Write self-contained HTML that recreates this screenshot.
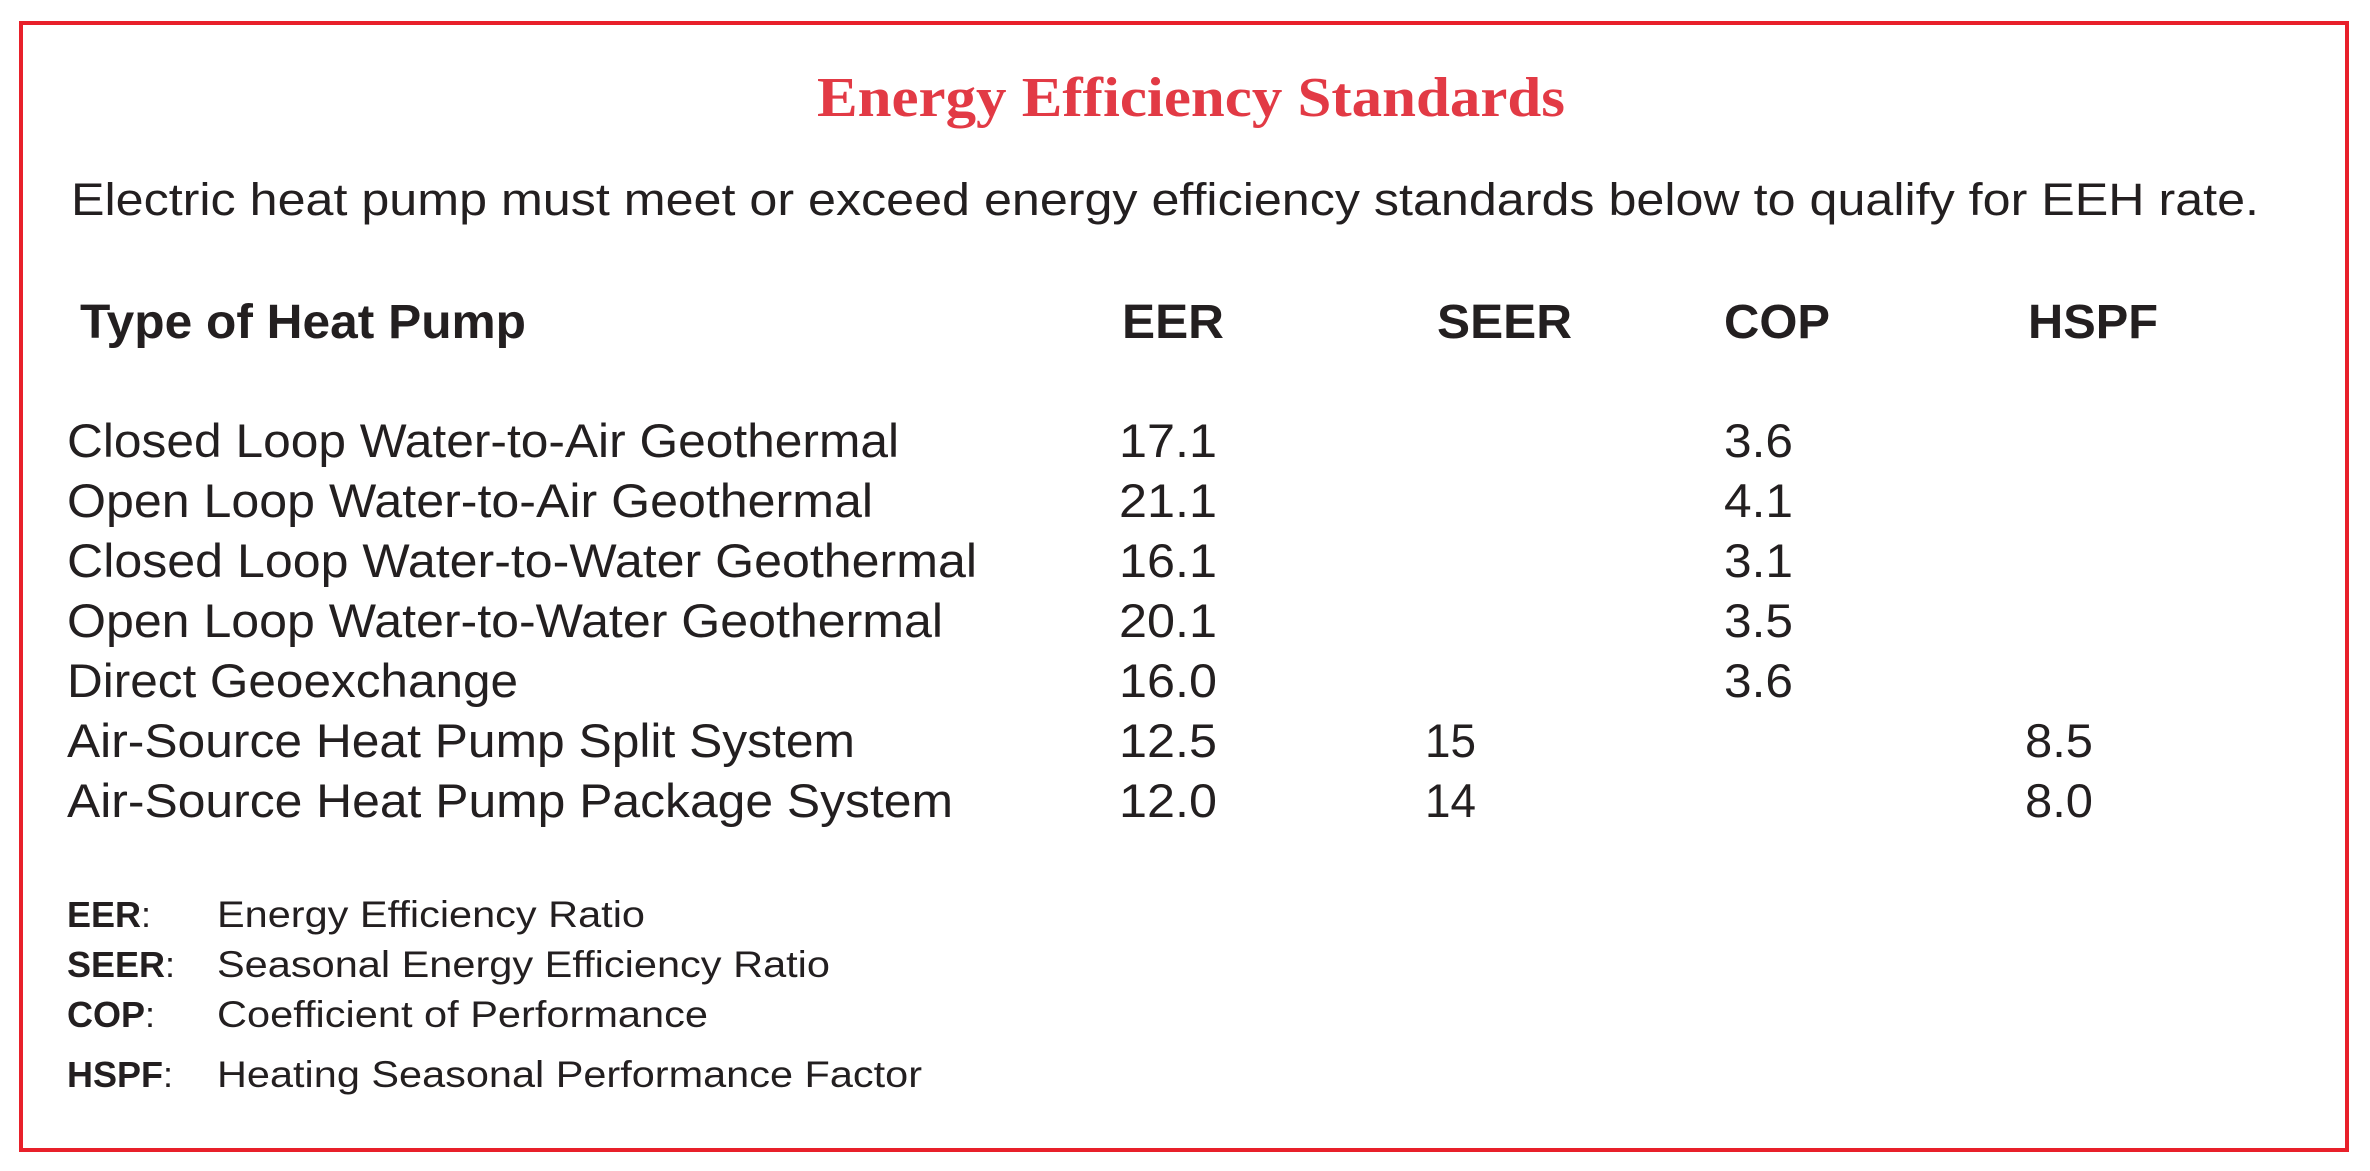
<!DOCTYPE html>
<html><head><meta charset="utf-8"><style>
html,body{margin:0;padding:0;background:#fff;}
svg{display:block;}
text{font-family:"Liberation Sans",Arial,sans-serif;fill:#231f20;}
</style></head><body>
<svg id="chart" width="2370" height="1171" viewBox="0 0 2370 1171" xmlns="http://www.w3.org/2000/svg">
<rect x="21" y="23" width="2326" height="1127" fill="#fff" stroke="#e8202a" stroke-width="4"/>
<text x="817" y="116" textLength="748" lengthAdjust="spacingAndGlyphs" style="font-family:'Liberation Serif',serif;font-weight:bold;font-size:56px;fill:#e23a45">Energy Efficiency Standards</text>
<text x="71" y="215" textLength="2188" lengthAdjust="spacingAndGlyphs" font-size="45">Electric heat pump must meet or exceed energy efficiency standards below to qualify for EEH rate.</text>
<text x="80" y="338" textLength="446" lengthAdjust="spacingAndGlyphs" font-size="48" font-weight="bold">Type of Heat Pump</text>
<text x="1122" y="338" textLength="102" lengthAdjust="spacingAndGlyphs" font-size="48" font-weight="bold">EER</text>
<text x="1437" y="338" textLength="135" lengthAdjust="spacingAndGlyphs" font-size="48" font-weight="bold">SEER</text>
<text x="1724" y="338" textLength="106" lengthAdjust="spacingAndGlyphs" font-size="48" font-weight="bold">COP</text>
<text x="2028" y="338" textLength="130" lengthAdjust="spacingAndGlyphs" font-size="48" font-weight="bold">HSPF</text>
<g id="rows"></g>
<text x="67" y="927" font-size="36"><tspan font-weight="bold">EER</tspan>:</text>
<text x="217" y="927" textLength="428" lengthAdjust="spacingAndGlyphs" font-size="37">Energy Efficiency Ratio</text>
<text x="67" y="977" font-size="36"><tspan font-weight="bold">SEER</tspan>:</text>
<text x="217" y="977" textLength="613" lengthAdjust="spacingAndGlyphs" font-size="37">Seasonal Energy Efficiency Ratio</text>
<text x="67" y="1027" font-size="36"><tspan font-weight="bold">COP</tspan>:</text>
<text x="217" y="1027" textLength="491" lengthAdjust="spacingAndGlyphs" font-size="37">Coefficient of Performance</text>
<text x="67" y="1087" font-size="36"><tspan font-weight="bold">HSPF</tspan>:</text>
<text x="217" y="1087" textLength="705" lengthAdjust="spacingAndGlyphs" font-size="37">Heating Seasonal Performance Factor</text>
</svg>
<script>
const types = ["Closed Loop Water-to-Air Geothermal","Open Loop Water-to-Air Geothermal","Closed Loop Water-to-Water Geothermal","Open Loop Water-to-Water Geothermal","Direct Geoexchange","Air-Source Heat Pump Split System","Air-Source Heat Pump Package System"];
const eer = ["17.1","21.1","16.1","20.1","16.0","12.5","12.0"];
const seer = ["","","","","","15","14"];
const cop = ["3.6","4.1","3.1","3.5","3.6","",""];
const hspf = ["","","","","","8.5","8.0"];
const typeWidths = [832,806,910,876,451,788,886];
const NS = "http://www.w3.org/2000/svg";
const g = document.getElementById("rows");
function rowY(i){ return 457 + i*60; }
function addText(x, y, s, name, tl){
  const t = document.createElementNS(NS, "text");
  t.setAttribute("x", x); t.setAttribute("y", y);
  t.setAttribute("font-size", "47");
  if (tl) { t.setAttribute("textLength", tl); t.setAttribute("lengthAdjust", "spacingAndGlyphs"); }
  t.textContent = s;
  
  
  g.appendChild(t);
}
types.forEach((s, i) => {
  const y = rowY(i);
  addText(67, y, s, "row-type-label", typeWidths[i]);
  if (eer[i]) addText(1119, y, eer[i], "eer-value", 98);
  if (seer[i]) addText(1425, y, seer[i], "seer-value", 51);
  if (cop[i]) addText(1724, y, cop[i], "cop-value", 69);
  if (hspf[i]) addText(2025, y, hspf[i], "hspf-value", 68);
});
</script>
</body></html>
